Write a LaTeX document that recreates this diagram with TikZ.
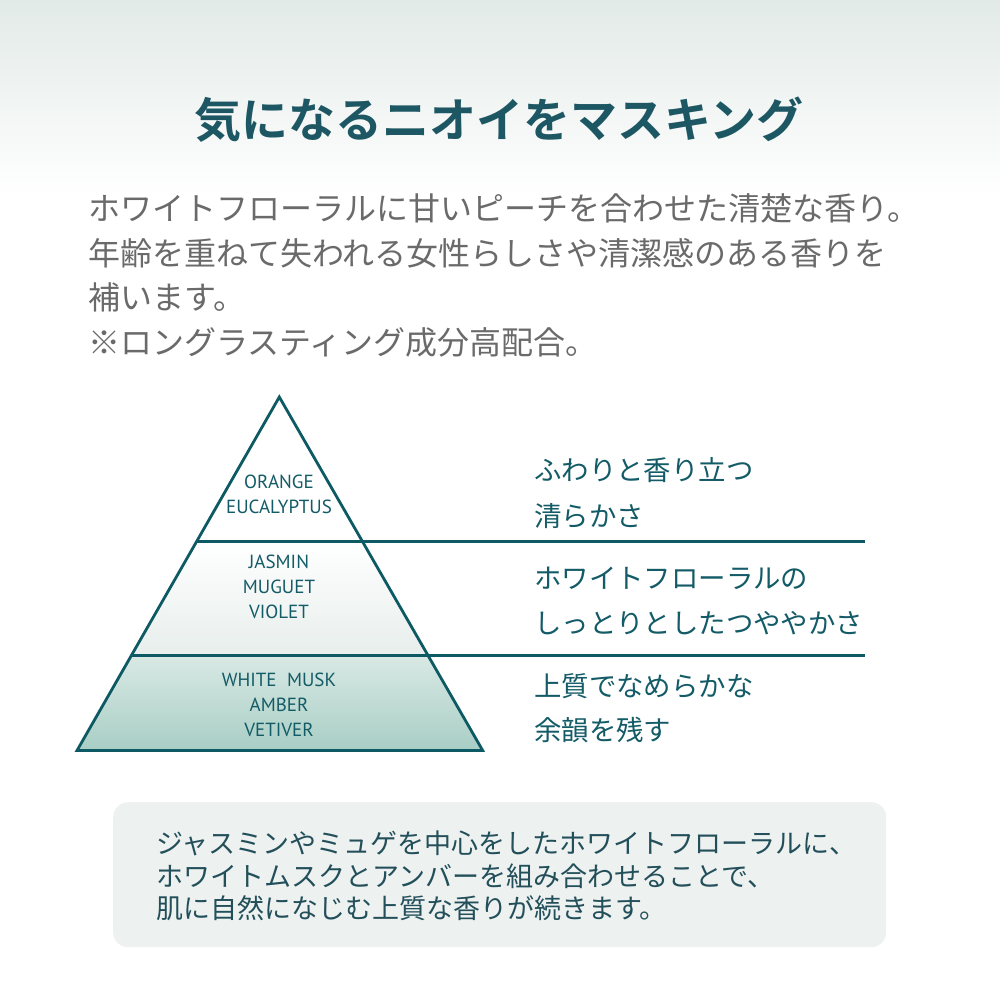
\documentclass[tikz,border=0pt]{standalone}
\usepackage{fontspec}
\newfontfamily\jp{Noto Sans CJK JP}
\newfontfamily\jpb{Noto Sans CJK JP Bold}
\newfontfamily\lat{PT Sans}
\definecolor{bgtop}{HTML}{E2EAE7}
\definecolor{titlec}{HTML}{1D5763}
\definecolor{bodyc}{HTML}{6A6A6A}
\definecolor{tealline}{HTML}{0D5A64}
\definecolor{tealtext}{HTML}{135B66}
\definecolor{midbot}{HTML}{E7EEEC}
\definecolor{lowtop}{HTML}{D9E9E4}
\definecolor{lowbot}{HTML}{A8CEC5}
\definecolor{boxc}{HTML}{EDF1F0}
\definecolor{boxtext}{HTML}{234F5A}
\tikzset{
  pyrlabel/.style={text=tealtext, align=center, inner sep=0pt, font=\lat\fontsize{19}{25}\selectfont},
  rlabel/.style={text=tealtext, anchor=west, inner sep=0pt, font=\jp\fontsize{27.4}{27.4}\selectfont},
  bodyline/.style={text=bodyc, anchor=west, inner sep=0pt, font=\jp\fontsize{32}{32}\selectfont},
  boxline/.style={text=boxtext, anchor=west, inner sep=0pt, font=\jp\fontsize{27}{27}\selectfont},
  tline/.style={draw=tealline, line width=2.8pt},
}
\begin{document}
\begin{tikzpicture}[x=1pt,y=-1pt]
\useasboundingbox (0,0) rectangle (1000,1000);
\fill[white] (0,0) rectangle (1000,1000);
\fill[top color=bgtop, bottom color=white] (0,0) rectangle (1000,195);
% title
\node[text=titlec, inner sep=0pt, font=\jpb\fontsize{47}{47}\selectfont] (title) at (499,120) {気になるニオイをマスキング};
% body
\node[bodyline] (b1) at (88,208) {ホワイトフローラルに甘いピーチを合わせた清楚な香り。};
\node[bodyline] (b2) at (88,253) {年齢を重ねて失われる女性らしさや清潔感のある香りを};
\node[bodyline] (b3) at (88,297) {補います。};
\node[bodyline] (b4) at (88,342) {※ロングラスティング成分高配合。};
% pyramid fills
\coordinate (apex) at (279.3,397);
\coordinate (bl) at (77,750.5);
\coordinate (br) at (482.7,750.5);
\coordinate (d1l) at (197.2,541.3);
\coordinate (d1r) at (361.4,541.3);
\coordinate (d2l) at (131.9,655.5);
\coordinate (d2r) at (426.7,655.5);
\coordinate (e1) at (865,541.3);
\coordinate (e2) at (865,655.5);
\fill[top color=white, middle color=white, bottom color=midbot] (d1l) -- (d1r) -- (d2r) -- (d2l) -- cycle;
\fill[top color=lowtop, bottom color=lowbot] (d2l) -- (d2r) -- (br) -- (bl) -- cycle;
\draw[tline, line join=miter] (apex) -- (br) -- (bl) -- cycle;
\draw[tline] (d1l) -- (e1);
\draw[tline] (d2l) -- (e2);
% pyramid labels
\node[pyrlabel] (ptop) at (279,494.2) {ORANGE\\EUCALYPTUS};
\node[pyrlabel] (pmid) at (279,586.7) {JASMIN\\MUGUET\\VIOLET};
\node[pyrlabel] (pbot) at (279,705) {WHITE\hspace{0.55em}MUSK\\AMBER\\VETIVER};
% right labels
\node[rlabel] (r1) at (534,470) {ふわりと香り立つ};
\node[rlabel] (r2) at (534,516) {清らかさ};
\node[rlabel] (r3) at (534,578) {ホワイトフローラルの};
\node[rlabel] (r4) at (534,623) {しっとりとしたつややかさ};
\node[rlabel] (r5) at (534,686) {上質でなめらかな};
\node[rlabel] (r6) at (534,730) {余韻を残す};
% bottom box
\node[fill=boxc, rounded corners=15pt, minimum width=773pt, minimum height=145pt, anchor=north west, inner sep=0pt] (box) at (113,802) {};
\node[boxline] (t1) at (156,843) {ジャスミンやミュゲを中心をしたホワイトフローラルに、};
\node[boxline] (t2) at (156,876) {ホワイトムスクとアンバーを組み合わせることで、};
\node[boxline] (t3) at (156,908) {肌に自然になじむ上質な香りが続きます。};
\end{tikzpicture}
\end{document}
